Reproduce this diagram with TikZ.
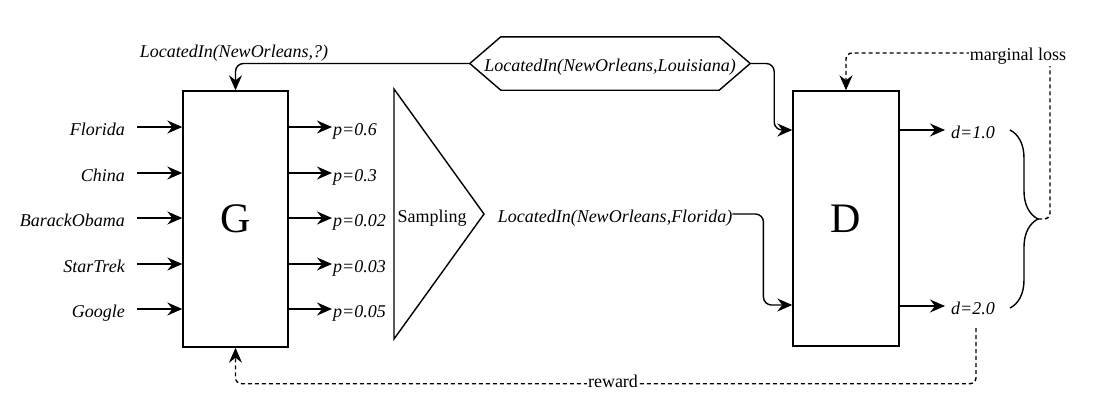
\documentclass[tikz,border=0pt]{standalone}
\usepackage{fontspec}
\setmainfont{Liberation Serif}
\usetikzlibrary{arrows.meta, positioning, calc, decorations.pathreplacing}
\tikzset{
    box/.style={
        rectangle,
        draw=black,
        line width=1.4pt,
        minimum width=105pt,
        minimum height=256pt,
        font=\fontsize{42}{42}\selectfont
    },
    lbl/.style={
        font=\fontsize{18}{20}\selectfont\itshape,
        text height=16pt,
        text depth=0pt,
        inner ysep=6pt
    },
    plainlbl/.style={
        lbl,
        font=\fontsize{18}{20}\selectfont
    },
    triple/.style={
        lbl,
        minimum width=280pt,
        minimum height=53pt,
        inner sep=0pt
    },
    outline/.style={
        draw=black,
        line width=1.4pt,
        line join=miter
    },
    connection/.style={
        draw=black,
        line width=1.4pt,
        -{Stealth[length=15pt,width=13pt,inset=5pt]}
    },
    feedback/.style={
        connection,
        dash pattern=on 4pt off 3pt,
        rounded corners=6pt
    }
}

\begin{document}
\begin{tikzpicture}[x=1pt, y=-1pt]
\useasboundingbox (0,0) rectangle (1093,413);

% Generator and discriminator
\node[box] (G) at (235.5,219) {G};
\node[box, minimum width=106pt, minimum height=255pt] (D) at (846,218.5) {D};

% Candidate tails
\foreach \name/\y [count=\i] in {Florida/127, China/173, BarackObama/218, StarTrek/264, Google/309} {
    \node[lbl, anchor=east, inner xsep=12pt] (in\i) at (137,\y) {\name};
    \draw[connection] (in\i.east) -- (in\i.east -| G.west);
}

% Probabilities
\foreach \p/\y [count=\i] in {0.6/127, 0.3/173, 0.02/218, 0.03/264, 0.05/309} {
    \node[lbl, anchor=west, inner xsep=1pt] (p\i) at (332,\y) {p=\p};
    \draw[connection] (p\i.west -| G.east) -- (p\i.west);
}

% Sampling
\draw[outline] (394,89) -- (484,214) -- (394,339) -- cycle;
\node[plainlbl] (sampling) at (432,214) {Sampling};

% Triples
\node[triple] (pos) at (610,63.5) {LocatedIn(NewOrleans,Louisiana)};
\draw[outline] (pos.west) -- ($(pos.north west)+(31,0)$) -- ($(pos.north east)+(-31,0)$)
    -- (pos.east) -- ($(pos.south east)+(-31,0)$) -- ($(pos.south west)+(31,0)$) -- cycle;
\node[lbl] (query) at (234,49) {LocatedIn(NewOrleans,?)};
\node[lbl, inner xsep=0pt] (neg) at (615,214) {LocatedIn(NewOrleans,Florida)};

\coordinate (rowa) at (0,130);
\coordinate (rowb) at (0,305);

\draw[connection, rounded corners=8pt] (pos.west) -| (G.north);
\draw[connection, rounded corners=8pt] (pos.east) -- ++(24,0) |- (D.west |- rowa);
\draw[connection, rounded corners=8pt] (neg.east) -- ++(31,0) |- (D.west |- rowb);

% Scores
\node[lbl, anchor=west, inner xsep=6pt] (d1) at (945,130) {d=1.0};
\node[lbl, anchor=west, inner xsep=6pt] (d2) at (945,306) {d=2.0};
\draw[connection] (D.east |- d1) -- (d1.west);
\draw[connection] (D.east |- d2) -- (d2.west);

\draw[line width=1.4pt, decorate, decoration={brace, amplitude=28pt}] (1010,130) -- (1010,308);
\coordinate (btip) at (1038,219);

% Marginal loss
\coordinate (mcorner) at (1050,53);
\draw[feedback] (btip) -| (mcorner) -| (D.north);
\node[plainlbl, fill=white, inner xsep=1pt] (mloss) at (1018,52) {marginal loss};

% Reward
\draw[feedback] ($(d2.south)+(3,8)$) |- ($(G.south)+(0,36)$) -- (G.south);
\node[plainlbl, fill=white, inner xsep=1pt] (reward) at (613,379) {reward};

\end{tikzpicture}
\end{document}
